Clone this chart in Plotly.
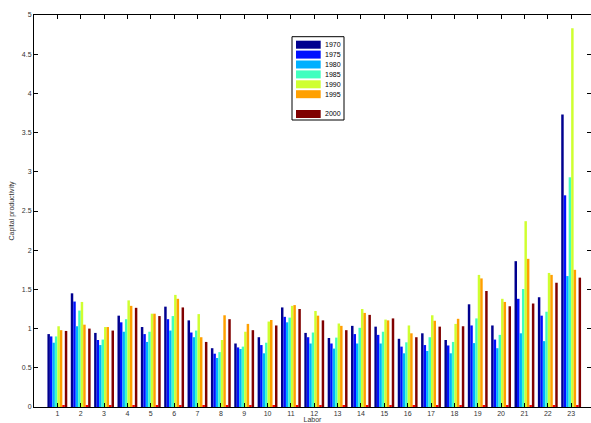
import plotly.graph_objects as go

categories = list(range(1, 24))
years = ["1970", "1975", "1980", "1985", "1990", "1995", "", "2000"]
colors = ["#00008f", "#0010ff", "#00b0ff", "#40ffbf", "#cfff30", "#ffa000", "#ff0000", "#800000"]

v1970 = [0.93, 1.45, 0.945, 1.165, 1.02, 1.28, 1.105, 0.75, 0.81, 0.89, 1.27, 0.945, 0.88, 1.035, 1.025, 0.87, 0.94, 0.855, 1.31, 1.04, 1.86, 1.40, 3.73]
v1975 = [0.90, 1.345, 0.855, 1.08, 0.93, 1.12, 0.95, 0.68, 0.76, 0.79, 1.15, 0.89, 0.81, 0.93, 0.92, 0.77, 0.79, 0.785, 1.04, 0.86, 1.38, 1.165, 2.70]
v1980 = [0.82, 1.03, 0.79, 0.96, 0.83, 0.975, 0.89, 0.625, 0.74, 0.685, 1.08, 0.81, 0.745, 0.81, 0.81, 0.685, 0.715, 0.685, 0.815, 0.75, 0.94, 0.84, 1.67]
v1985 = [0.90, 1.23, 0.86, 1.12, 0.96, 1.16, 0.975, 0.70, 0.77, 0.82, 1.14, 0.95, 0.885, 1.01, 0.96, 0.825, 0.89, 0.83, 1.13, 0.92, 1.505, 1.215, 2.93]
v1990 = [1.03, 1.34, 1.02, 1.36, 1.19, 1.43, 1.185, 0.855, 0.96, 1.09, 1.29, 1.225, 1.065, 1.25, 1.115, 1.04, 1.17, 1.06, 1.685, 1.38, 2.37, 1.71, 4.83]
v1995 = [0.98, 1.05, 1.02, 1.29, 1.19, 1.38, 0.89, 1.17, 1.06, 1.11, 1.30, 1.165, 1.035, 1.20, 1.105, 0.94, 1.10, 1.125, 1.64, 1.34, 1.89, 1.685, 1.75]
vblank = [0.02] * 23
v2000 = [0.97, 1.00, 0.975, 1.265, 1.16, 1.27, 0.83, 1.12, 0.98, 1.04, 1.25, 1.105, 0.98, 1.175, 1.13, 0.89, 1.025, 1.03, 1.48, 1.285, 1.32, 1.585, 1.65]

series = [v1970, v1975, v1980, v1985, v1990, v1995, vblank, v2000]

W, H = 591, 423
ML, MR, MT, MB = 34, 0, 15, 16
PW, PH = W - ML - MR, H - MT - MB


def px(x):
    return (x - ML) / PW


def py(y):
    return (H - MB - y) / PH


fig = go.Figure()
for name, col, vals in zip(years, colors, series):
    fig.add_trace(go.Bar(x=categories, y=vals, name=name if name else " ",
                         marker_color=col, marker_line_width=0))

font = "Liberation Sans, Arial, sans-serif"

# custom legend (compact, MATLAB-like)
shapes = [dict(type="rect", xref="paper", yref="paper",
               x0=px(292), x1=px(344), y0=py(120), y1=py(36.7),
               line=dict(color="black", width=1), fillcolor="white", layer="above")]
annotations = []
for i, (name, col) in enumerate(zip(years, colors)):
    top = 40.7 + 9.9 * i
    if name == "":
        continue
    shapes.append(dict(type="rect", xref="paper", yref="paper",
                       x0=px(296), x1=px(320.7), y0=py(top + 8), y1=py(top),
                       line=dict(width=0), fillcolor=col, layer="above"))
    annotations.append(dict(xref="paper", yref="paper", x=px(323), y=py(top + 4),
                            xanchor="left", yanchor="middle", text=name, showarrow=False,
                            font=dict(size=7, color="black", family=font)))

fig.update_layout(
    width=W, height=H,
    margin=dict(l=ML, r=MR, t=MT, b=MB),
    paper_bgcolor="white", plot_bgcolor="white",
    barmode="group", bargap=0.15, bargroupgap=0,
    font=dict(family=font, size=7, color="#333333"),
    showlegend=False,
    shapes=shapes, annotations=annotations,
    xaxis=dict(range=[0, 23.85], tickmode="array", tickvals=categories,
               ticks="inside", ticklen=4, tickcolor="black", showline=True,
               linecolor="black", linewidth=1, mirror="ticks", showgrid=False,
               zeroline=False, automargin=False, tickfont=dict(size=7, color="#333333"),
               title=dict(text="Labor", font=dict(size=7, color="#333333", family=font),
                          standoff=0)),
    yaxis=dict(range=[0, 5], dtick=0.5, ticks="inside", ticklen=4, tickcolor="black",
               showline=True, linecolor="black", linewidth=1, mirror="ticks",
               showgrid=False, zeroline=False, automargin=False,
               tickfont=dict(size=7, color="#333333"),
               title=dict(text="Capital productivity",
                          font=dict(size=7, color="#333333", family=font), standoff=6)),
)

fig.write_html("out.html", config={"displayModeBar": False},
               post_script="document.body.style.margin='0';document.body.style.overflow='hidden';")
